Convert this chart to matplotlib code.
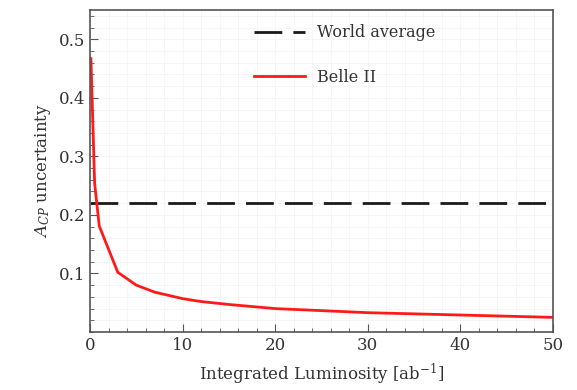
import matplotlib
matplotlib.use("Agg")
import matplotlib.pyplot as plt
from matplotlib.ticker import MultipleLocator

lumi = [0.1, 0.5, 1, 3, 5, 7, 10, 12, 15, 20, 30, 40, 50]
belle2 = [0.467, 0.254, 0.181, 0.102, 0.080, 0.068, 0.057, 0.052, 0.047, 0.040, 0.033, 0.029, 0.025]
world_avg = 0.22

plt.rcParams['font.family'] = ['DejaVu Serif']
plt.rcParams['mathtext.fontset'] = 'dejavuserif'

fig = plt.figure(figsize=(5.77, 3.90), dpi=100)
ax = fig.add_axes([90/577, 1-332/390, 463/577, 322/390])

ax.axhline(world_avg, color='#1a1a1a', ls=(0, (10, 4)), lw=2, label='World average')
ax.plot(lumi, belle2, color='#ff1a1a', lw=2, label='Belle II')

ax.set_xlim(0, 50)
ax.set_ylim(0.0, 0.55)
ax.xaxis.set_major_locator(MultipleLocator(10))
ax.xaxis.set_minor_locator(MultipleLocator(2))
ax.yaxis.set_major_locator(MultipleLocator(0.1))
ax.yaxis.set_minor_locator(MultipleLocator(0.02))
ax.set_yticks([0.1, 0.2, 0.3, 0.4, 0.5])
ax.tick_params(which='both', direction='in', color='#555555', labelcolor='#333333', labelsize=12)
ax.tick_params(which='major', length=6)
ax.tick_params(which='minor', length=3)
ax.grid(which='both', color='#f5f5f5', lw=0.6)
ax.set_axisbelow(True)
for s in ax.spines.values():
    s.set_color('#555555')
    s.set_linewidth(1.2)

ax.set_xlabel(r'Integrated Luminosity [ab$^{-1}$]', fontsize=12, color='#333333', labelpad=6)
ax.set_ylabel(r'$A_{CP}$ uncertainty', fontsize=12, color='#333333')

leg = ax.legend(loc='upper center', frameon=False, fontsize=11.5, handlelength=3.2,
                labelspacing=1.7, bbox_to_anchor=(0.55, 1.0))
for t in leg.get_texts():
    t.set_color('#333333')

fig.savefig('out.png', dpi=100)
